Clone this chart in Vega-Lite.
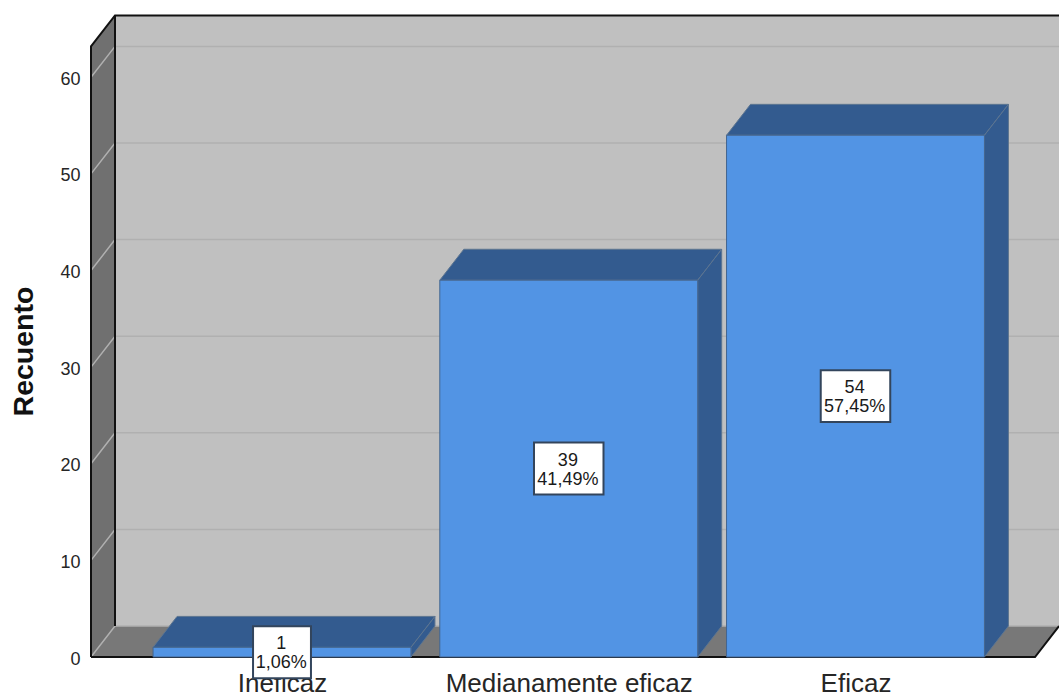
{
  "$schema": "https://vega.github.io/schema/vega-lite/v6.json",
  "width": 968,
  "height": 657,
  "autosize": {"type": "none"},
  "padding": {"left": 91, "top": 0, "right": 0, "bottom": 40},
  "background": "#ffffff",
  "view": {"stroke": null},
  "config": {"font": "Liberation Sans"},
  "datasets": {
    "barras": [
      {"categoria": "Ineficaz", "orden": 1, "recuento": 1, "porcentaje": "1,06%"},
      {"categoria": "Medianamente eficaz", "orden": 2, "recuento": 39, "porcentaje": "41,49%"},
      {"categoria": "Eficaz", "orden": 3, "recuento": 54, "porcentaje": "57,45%"}
    ],
    "pared_fondo": [
      {"px": 0.4176, "py": 3.2, "py2": 66.4},
      {"px": 3.7097, "py": 3.2, "py2": 66.4}
    ],
    "pared_lateral": [
      {"px": 0.3339, "py": 0, "py2": 63.2},
      {"px": 0.4176, "py": 3.2, "py2": 66.4}
    ],
    "suelo": [
      {"px": 0.3339, "py": 0, "py2": 0},
      {"px": 0.4176, "py": 0, "py2": 3.2},
      {"px": 3.626, "py": 0, "py2": 3.2},
      {"px": 3.7097, "py": 3.2, "py2": 3.2}
    ],
    "cuadricula": [
      {"valor": 0}, {"valor": 10}, {"valor": 20}, {"valor": 30},
      {"valor": 40}, {"valor": 50}, {"valor": 60}
    ],
    "contorno": [
      {"tramo": "a", "n": 1, "px": 0.3339, "py": 0},
      {"tramo": "a", "n": 2, "px": 0.3339, "py": 63.2},
      {"tramo": "a", "n": 3, "px": 0.4176, "py": 66.4},
      {"tramo": "a", "n": 4, "px": 3.7097, "py": 66.4},
      {"tramo": "b", "n": 1, "px": 0.4176, "py": 3.2},
      {"tramo": "b", "n": 2, "px": 0.4176, "py": 66.4},
      {"tramo": "c", "n": 1, "px": 0.3339, "py": 0},
      {"tramo": "c", "n": 2, "px": 3.626, "py": 0},
      {"tramo": "c", "n": 3, "px": 3.7097, "py": 3.2}
    ]
  },
  "encoding": {
    "x": {
      "field": "px",
      "type": "quantitative",
      "scale": {"domain": [0.3339, 3.7097], "nice": false, "zero": false},
      "axis": {
        "title": null,
        "values": [1, 2, 3],
        "labelExpr": "datum.value == 1 ? 'Ineficaz' : datum.value == 2 ? 'Medianamente eficaz' : 'Eficaz'",
        "domain": false,
        "ticks": false,
        "grid": false,
        "labelFontSize": 26,
        "labelColor": "#262626",
        "labelBaseline": "alphabetic",
        "labelPadding": 34,
        "labelLimit": 400,
        "labelFlush": false,
        "labelOverlap": false
      }
    },
    "y": {
      "field": "py",
      "type": "quantitative",
      "scale": {"domain": [0, 68], "nice": false},
      "axis": {
        "title": "Recuento",
        "titleFontSize": 28.5,
        "titleFontWeight": "bold",
        "titleColor": "#111111",
        "titleX": -53,
        "titleY": 351,
        "values": [0, 10, 20, 30, 40, 50, 60],
        "domain": false,
        "ticks": false,
        "grid": false,
        "labelFontSize": 18,
        "labelColor": "#262626",
        "labelPadding": 11,
        "labelOffset": 2
      }
    }
  },
  "layer": [
    {
      "data": {"name": "pared_fondo"},
      "mark": {"type": "area", "orient": "vertical", "fill": "#c0c0c0"},
      "encoding": {"y2": {"field": "py2"}}
    },
    {
      "data": {"name": "pared_lateral"},
      "mark": {"type": "area", "orient": "vertical", "fill": "#707070"},
      "encoding": {"y2": {"field": "py2"}}
    },
    {
      "data": {"name": "suelo"},
      "mark": {"type": "area", "orient": "vertical", "fill": "#787878"},
      "encoding": {"y2": {"field": "py2"}}
    },
    {
      "data": {"name": "cuadricula"},
      "transform": [
        {"calculate": "[0.3339, 0.4176, 3.7097]", "as": "px"},
        {"calculate": "[datum.valor, datum.valor + 3.2, datum.valor + 3.2]", "as": "py"},
        {"flatten": ["px", "py"]}
      ],
      "mark": {"type": "line", "stroke": "#b0b0b0", "strokeWidth": 1.5},
      "encoding": {"detail": {"field": "valor"}}
    },
    {
      "data": {"name": "contorno"},
      "mark": {"type": "line", "stroke": "#111111", "strokeWidth": 2},
      "encoding": {
        "detail": {"field": "tramo"},
        "order": {"field": "n"}
      }
    },
    {
      "data": {"name": "barras"},
      "transform": [
        {"calculate": "[datum.orden - 0.4497, datum.orden - 0.366, datum.orden + 0.4497, datum.orden + 0.5334]", "as": "px"},
        {"calculate": "[datum.recuento, datum.recuento, datum.recuento, datum.recuento + 3.2]", "as": "py"},
        {"calculate": "[datum.recuento, datum.recuento + 3.2, datum.recuento + 3.2, datum.recuento + 3.2]", "as": "py2"},
        {"flatten": ["px", "py", "py2"]}
      ],
      "mark": {"type": "area", "orient": "vertical", "fill": "#335b8f", "stroke": "#5d7590", "strokeWidth": 1},
      "encoding": {"y2": {"field": "py2"}, "detail": {"field": "categoria"}}
    },
    {
      "data": {"name": "barras"},
      "transform": [
        {"calculate": "[datum.orden + 0.4497, datum.orden + 0.5334]", "as": "px"},
        {"calculate": "[0, 3.2]", "as": "py"},
        {"calculate": "[datum.recuento, datum.recuento + 3.2]", "as": "py2"},
        {"flatten": ["px", "py", "py2"]}
      ],
      "mark": {"type": "area", "orient": "vertical", "fill": "#335b8f", "stroke": "#5d7590", "strokeWidth": 1},
      "encoding": {"y2": {"field": "py2"}, "detail": {"field": "categoria"}}
    },
    {
      "data": {"name": "barras"},
      "transform": [
        {"calculate": "datum.orden - 0.4497", "as": "px"},
        {"calculate": "datum.orden + 0.4497", "as": "px2"},
        {"calculate": "datum.recuento", "as": "py"},
        {"calculate": "0", "as": "py2"}
      ],
      "mark": {"type": "rect", "fill": "#5294e4", "stroke": "#44658f", "strokeWidth": 1},
      "encoding": {"x2": {"field": "px2"}, "y2": {"field": "py2"}}
    },
    {
      "data": {"name": "barras"},
      "transform": [
        {"calculate": "datum.orden - 0.0202 * length(datum.porcentaje)", "as": "px"},
        {"calculate": "datum.orden + 0.0202 * length(datum.porcentaje)", "as": "px2"},
        {"calculate": "datum.recuento / 2 + 2.69", "as": "py"},
        {"calculate": "datum.recuento / 2 - 2.69", "as": "py2"}
      ],
      "mark": {"type": "rect", "fill": "#ffffff", "stroke": "#33455c", "strokeWidth": 2},
      "encoding": {"x2": {"field": "px2"}, "y2": {"field": "py2"}}
    },
    {
      "data": {"name": "barras"},
      "transform": [
        {"calculate": "datum.orden - 0.003", "as": "px"},
        {"calculate": "datum.recuento / 2", "as": "py"},
        {"calculate": "datum.recuento + '\\n' + datum.porcentaje", "as": "etiqueta"}
      ],
      "mark": {"type": "text", "lineBreak": "\n", "lineHeight": 19, "fontSize": 18, "dy": -8, "color": "#1a1a1a", "align": "center", "baseline": "middle"},
      "encoding": {"text": {"field": "etiqueta"}}
    }
  ]
}
